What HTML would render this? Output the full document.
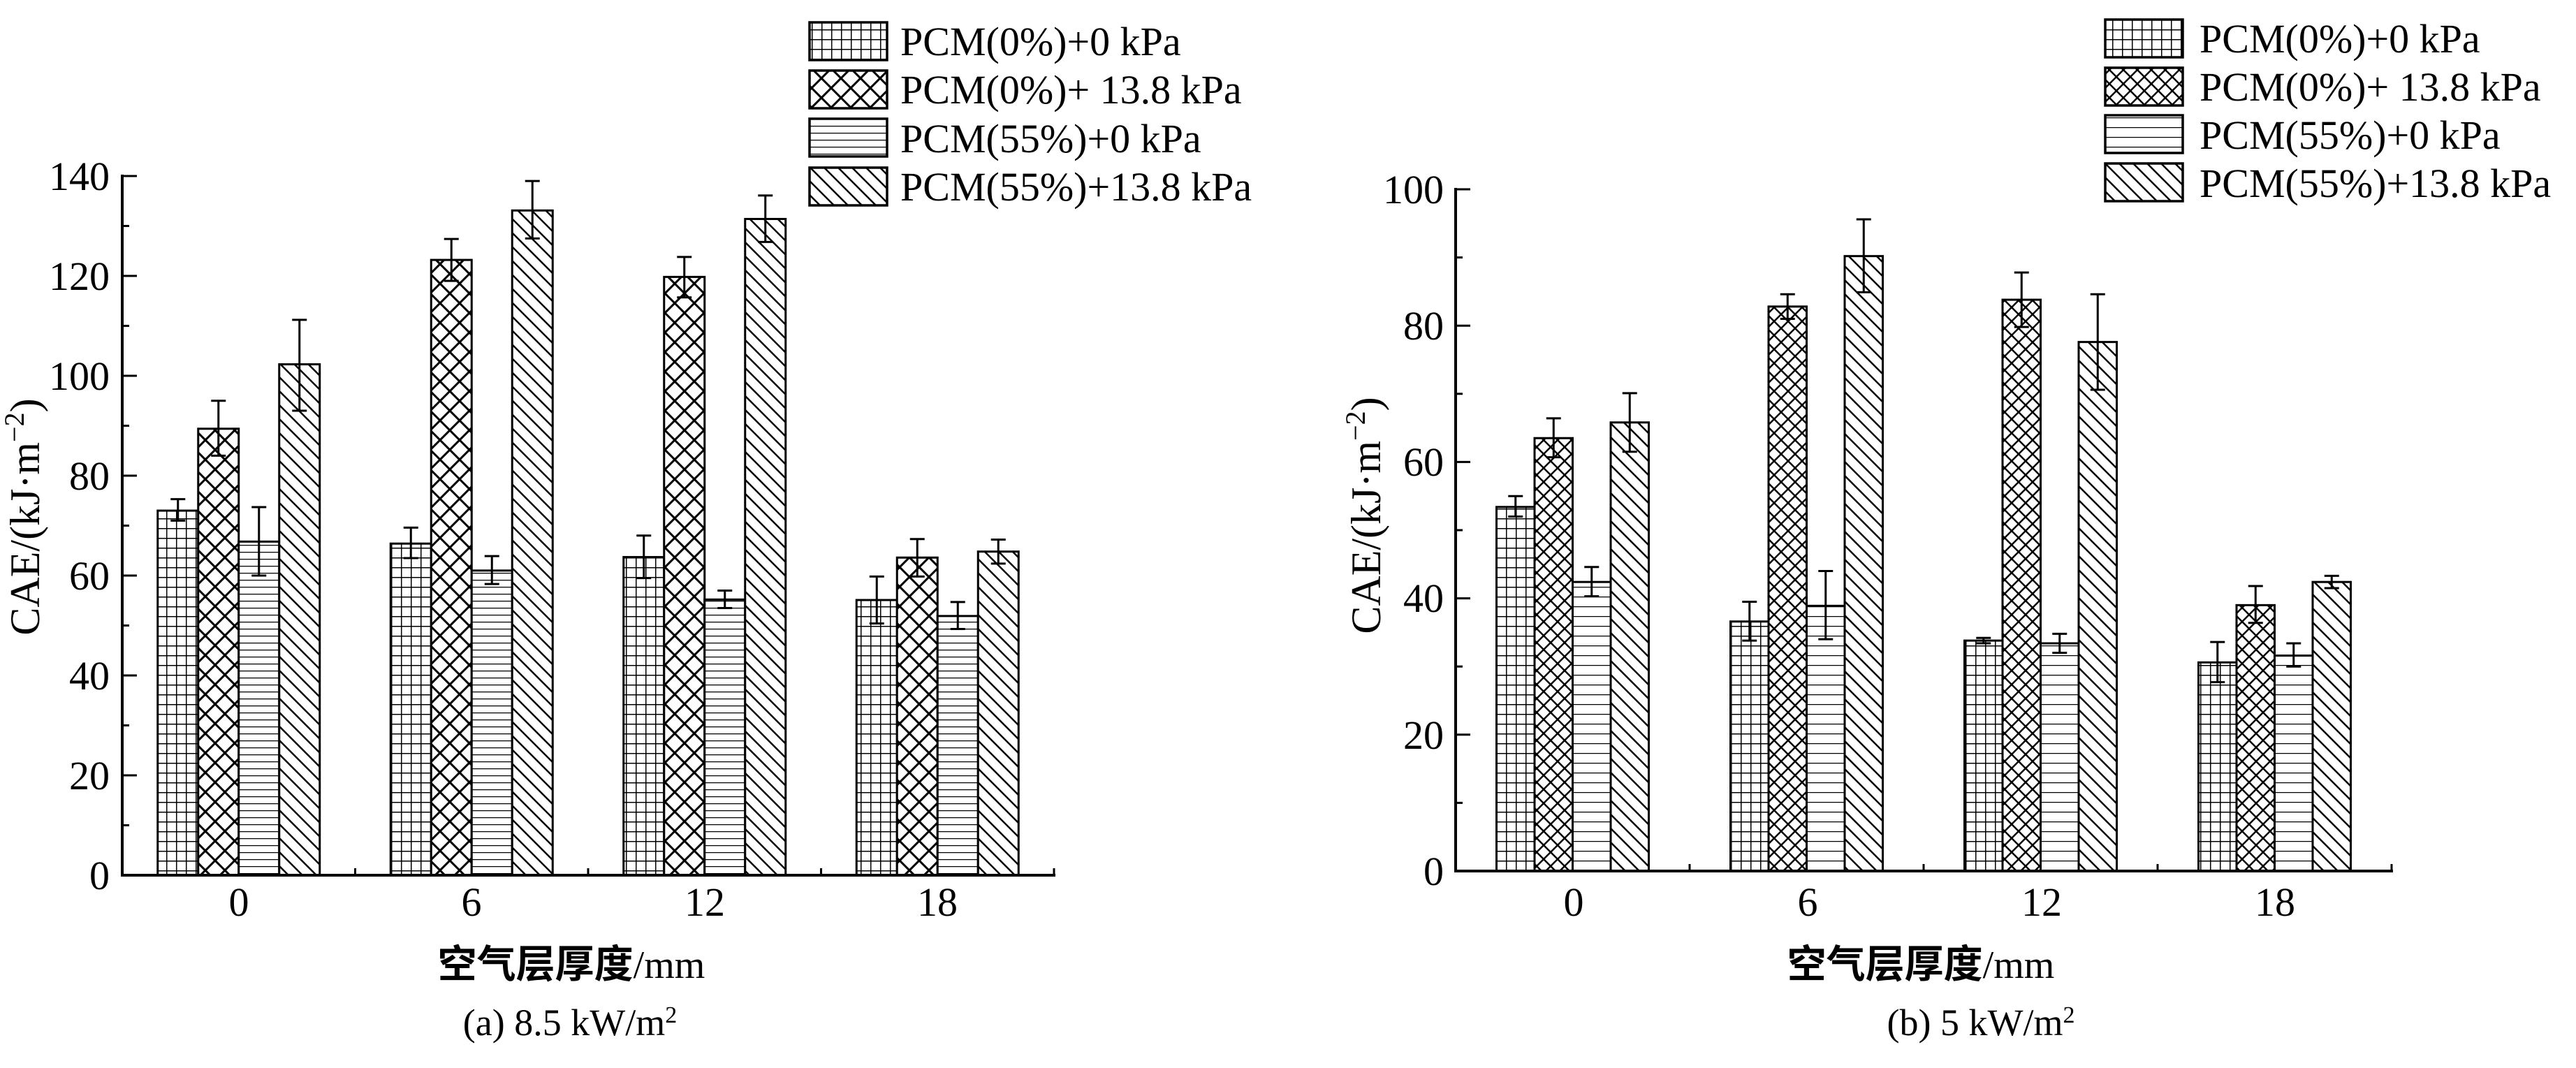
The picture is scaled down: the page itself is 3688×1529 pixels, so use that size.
<!DOCTYPE html>
<html><head><meta charset="utf-8"><style>
html,body{margin:0;padding:0;background:#fff;}
svg{display:block;}
text{font-family:"Liberation Serif","Noto Serif CJK SC",serif;fill:#000;}
.cjk{font-family:"Liberation Serif","Noto Sans CJK SC",sans-serif;font-weight:bold;}
</style></head><body>
<svg id="s" width="3688" height="1529" xmlns="http://www.w3.org/2000/svg">
<defs>
<pattern id="grid" patternUnits="userSpaceOnUse" width="14" height="14"><path d="M0 0V14M0 0H14" stroke="#000" stroke-width="3"/></pattern>
<pattern id="crossL" patternUnits="userSpaceOnUse" width="28" height="28"><path d="M0 0L28 28M28 0L0 28" stroke="#000" stroke-width="3"/></pattern>
<pattern id="crossR" patternUnits="userSpaceOnUse" width="20" height="20"><path d="M0 0L20 20M20 0L0 20" stroke="#000" stroke-width="2.5"/></pattern>
<pattern id="hl" patternUnits="userSpaceOnUse" width="20" height="10"><path d="M0 0H20" stroke="#000" stroke-width="2.5"/></pattern>
<pattern id="hlR" patternUnits="userSpaceOnUse" width="20" height="14"><path d="M0 0H20" stroke="#000" stroke-width="2.5"/></pattern>
<pattern id="diag" patternUnits="userSpaceOnUse" width="20" height="20"><path d="M-5 -5L25 25M-5 15L5 25M15 -5L25 5" stroke="#000" stroke-width="2.5"/></pattern>
</defs>
<g id="plots"></g>

<!-- Left panel text -->
<g font-size="58" text-anchor="end">
<text x="157" y="1273">0</text><text x="157" y="1130">20</text><text x="157" y="987">40</text><text x="157" y="844">60</text><text x="157" y="701">80</text><text x="157" y="558">100</text><text x="157" y="415">120</text><text x="157" y="272">140</text>
</g>
<g font-size="58" text-anchor="middle">
<text x="342" y="1311">0</text><text x="675" y="1311">6</text><text x="1009" y="1311">12</text><text x="1342" y="1311">18</text>
</g>
<text x="56" y="740" font-size="60" text-anchor="middle" transform="rotate(-90 56 740)">CAE/(kJ·m<tspan baseline-shift="super" font-size="40">−2</tspan>)</text>
<text x="818" y="1400" font-size="56" text-anchor="middle"><tspan class="cjk">空气层厚度</tspan>/mm</text>
<text x="816" y="1482" font-size="54" text-anchor="middle">(a) 8.5 kW/m<tspan baseline-shift="super" font-size="34">2</tspan></text>
<g font-size="58">
<text x="1289" y="79">PCM(0%)+0 kPa</text>
<text x="1289" y="148">PCM(0%)+ 13.8 kPa</text>
<text x="1289" y="218">PCM(55%)+0 kPa</text>
<text x="1289" y="287">PCM(55%)+13.8 kPa</text>
</g>

<!-- Right panel text -->
<g font-size="58" text-anchor="end">
<text x="2067" y="1267">0</text><text x="2067" y="1072">20</text><text x="2067" y="876">40</text><text x="2067" y="681">60</text><text x="2067" y="486">80</text><text x="2067" y="291">100</text>
</g>
<g font-size="58" text-anchor="middle">
<text x="2253" y="1311">0</text><text x="2588" y="1311">6</text><text x="2923" y="1311">12</text><text x="3257" y="1311">18</text>
</g>
<text x="1976" y="738" font-size="60" text-anchor="middle" transform="rotate(-90 1976 738)">CAE/(kJ·m<tspan baseline-shift="super" font-size="40">−2</tspan>)</text>
<text x="2750" y="1400" font-size="56" text-anchor="middle"><tspan class="cjk">空气层厚度</tspan>/mm</text>
<text x="2836" y="1482" font-size="54" text-anchor="middle">(b) 5 kW/m<tspan baseline-shift="super" font-size="34">2</tspan></text>
<g font-size="58">
<text x="3149" y="75">PCM(0%)+0 kPa</text>
<text x="3149" y="144">PCM(0%)+ 13.8 kPa</text>
<text x="3149" y="213">PCM(55%)+0 kPa</text>
<text x="3149" y="282">PCM(55%)+13.8 kPa</text>
</g>
</svg>
<script>
var NS="http://www.w3.org/2000/svg",G=document.getElementById("plots");
function el(t,a){var e=document.createElementNS(NS,t);for(var k in a)e.setAttribute(k,a[k]);G.appendChild(e);return e;}
function panel(o){
  var x0=o.x0,x1=o.x1,b=o.base,k=o.k;
  // bars
  for(var g=0;g<4;g++){
    var c=x0+(x1-x0)/8*(2*g+1);
    for(var i=0;i<4;i++){
      var d=o.data[g][i],xs=c-2*o.bw+i*o.bw,yt=b-d[0]*k;
      el("rect",{x:xs,y:yt,width:o.bw,height:b-yt,fill:"#fff",stroke:"none"});
      el("rect",{x:xs,y:yt,width:o.bw,height:b-yt,fill:"url(#"+o.pats[i]+")",stroke:"#000","stroke-width":3});
      var xm=xs+o.bw/2,ylo=b-d[1]*k,yhi=b-d[2]*k;
      el("line",{x1:xm,x2:xm,y1:ylo,y2:yhi,stroke:"#000","stroke-width":3});
      el("line",{x1:xm-10.5,x2:xm+10.5,y1:ylo,y2:ylo,stroke:"#000","stroke-width":3});
      el("line",{x1:xm-10.5,x2:xm+10.5,y1:yhi,y2:yhi,stroke:"#000","stroke-width":3});
    }
  }
  // axes
  el("line",{x1:x0,x2:x0,y1:o.top-2,y2:b+2,stroke:"#000","stroke-width":4});
  el("line",{x1:x0-2,x2:x1+2,y1:b,y2:b,stroke:"#000","stroke-width":4});
  for(var v=0;v<=o.max;v+=10){
    var y=b-v*k,len=(v%20==0)?21:10;
    el("line",{x1:x0,x2:x0+len,y1:y,y2:y,stroke:"#000","stroke-width":3});
  }
  for(var g=1;g<=4;g++){
    var x=x0+(x1-x0)/4*g;
    el("line",{x1:x,x2:x,y1:b,y2:b-10,stroke:"#000","stroke-width":3});
  }
  // legend
  for(var i=0;i<4;i++){
    var y=o.ly[i];
    el("rect",{x:o.lx,y:y,width:111,height:54,fill:"url(#"+o.pats[i]+")",stroke:"#000","stroke-width":3.5});
  }
}
panel({x0:175,x1:1509,base:1253,k:7.15,max:140,top:252,bw:58,pats:["grid","crossL","hl","diag"],
 lx:1159,ly:[32,101,170,240],
 data:[[[73,71,75.3],[89.4,84,95],[66.8,60,73.7],[102.3,93,111.2]],
       [[66.4,63.5,69.6],[123.2,119,127.4],[61,58.3,63.9],[133.1,127.5,139]],
       [[63.7,59.5,68],[119.8,115.7,123.8],[55.2,53.5,57],[131.4,126.8,136.1]],
       [[55.1,50.4,59.8],[63.6,59.8,67.3],[51.9,49.3,54.7],[64.8,62.4,67.2]]]});
panel({x0:2084,x1:3424,base:1247,k:9.76,max:100,top:271,bw:54.5,pats:["grid","crossR","hlR","diag"],
 lx:3014,ly:[28,97,165,234],
 data:[[[53.4,52,55],[63.5,60.7,66.4],[42.4,40.3,44.6],[65.8,61.5,70.1]],
       [[36.6,33.8,39.5],[82.8,81,84.6],[38.9,34,44],[90.2,84.9,95.6]],
       [[33.8,33.4,34.2],[83.8,79.8,87.8],[33.4,32,34.8],[77.6,70.6,84.6]],
       [[30.6,27.7,33.6],[39,36.4,41.8],[31.6,30,33.4],[42.4,41.5,43.3]]]});
</script>
</body></html>
